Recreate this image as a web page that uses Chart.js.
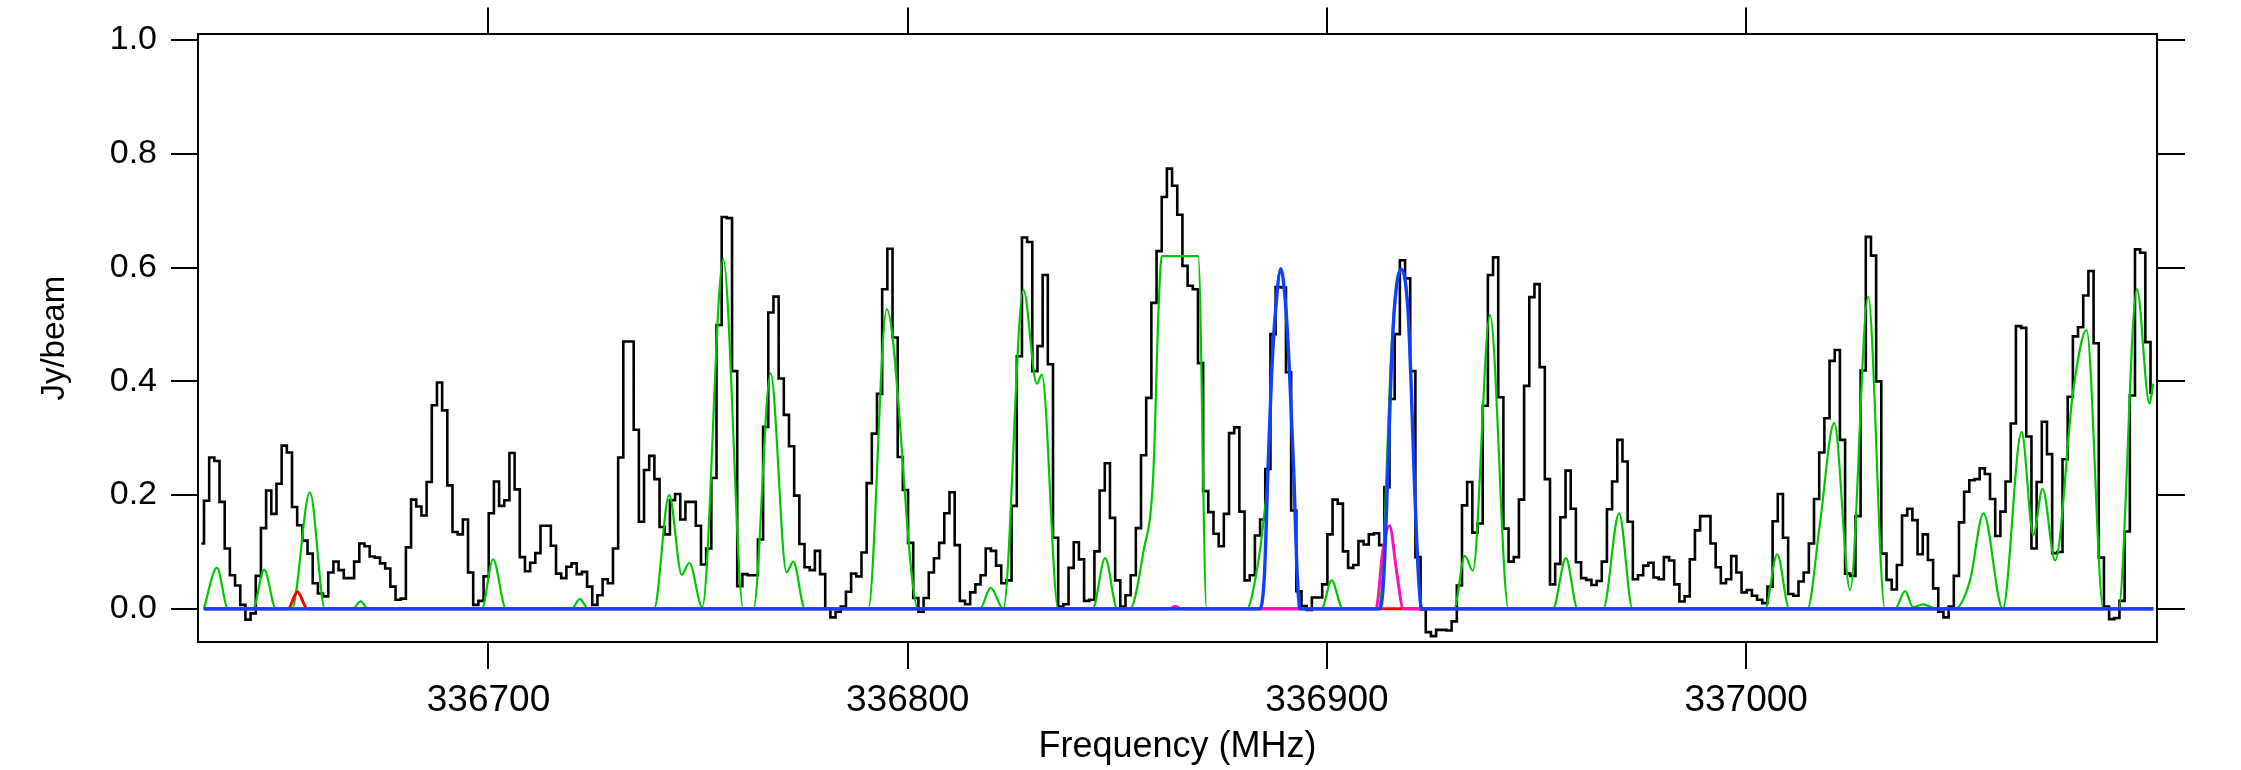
<!DOCTYPE html>
<html>
<head>
<meta charset="utf-8">
<title>Spectrum</title>
<script src="https://cdn.jsdelivr.net/npm/chart.js@4.4.1/dist/chart.umd.min.js"></script>
<style>
    html, body { margin: 0; padding: 0; background: #fff; }
    #wrap { width: 2241px; height: 770px; position: relative; }
</style>
</head>
<body>
<div id="wrap"><canvas id="spectrum"></canvas></div>
<script>
// observed spectrum: left edge of first channel and channel width (MHz)
const channelStart = 336632.14;
const channelWidth = 1.23488;
// first value is the stub just left of the first channel, then one value per channel (Jy/beam)
const fluxJy = [
    0.115,
    0.19, 0.266, 0.26, 0.188, 0.106, 0.059, 0.041, 0.007, -0.019, -0.008,
    0.058, 0.142, 0.208, 0.167, 0.22, 0.287, 0.275, 0.179, 0.147, 0.12,
    0.097, 0.045, 0.027, 0.022, 0.064, 0.083, 0.068, 0.054, 0.054, 0.083,
    0.115, 0.11, 0.092, 0.09, 0.08, 0.071, 0.039, 0.016, 0.018, 0.108,
    0.192, 0.18, 0.164, 0.223, 0.358, 0.398, 0.349, 0.217, 0.135, 0.131,
    0.157, 0.064, 0.007, 0.014, 0.057, 0.168, 0.224, 0.181, 0.191, 0.274,
    0.21, 0.091, 0.066, 0.081, 0.098, 0.146, 0.146, 0.111, 0.062, 0.054,
    0.074, 0.08, 0.061, 0.065, 0.039, 0.007, 0.024, 0.052, 0.045, 0.106,
    0.266, 0.47, 0.47, 0.315, 0.153, 0.244, 0.269, 0.228, 0.144, 0.131,
    0.191, 0.202, 0.157, 0.188, 0.188, 0.146, 0.078, 0.106, 0.23, 0.499,
    0.689, 0.687, 0.418, 0.04, 0.061, 0.059, 0.059, 0.122, 0.32, 0.521,
    0.549, 0.405, 0.341, 0.286, 0.199, 0.114, 0.073, 0.068, 0.102, 0.061,
    0.001, -0.015, -0.005, 0.004, 0.03, 0.062, 0.057, 0.099, 0.221, 0.308,
    0.378, 0.562, 0.633, 0.477, 0.267, 0.209, 0.116, 0.019, -0.005, 0.019,
    0.064, 0.089, 0.116, 0.168, 0.205, 0.112, 0.014, 0.008, 0.029, 0.043,
    0.059, 0.106, 0.102, 0.076, 0.045, 0.05, 0.181, 0.444, 0.653, 0.645,
    0.418, 0.462, 0.587, 0.43, 0.125, 0.004, 0.008, 0.072, 0.117, 0.087,
    0.014, 0.016, 0.101, 0.208, 0.256, 0.16, 0.05, 0.004, 0.024, 0.059,
    0.142, 0.27, 0.371, 0.538, 0.629, 0.724, 0.774, 0.744, 0.693, 0.603,
    0.568, 0.562, 0.432, 0.207, 0.17, 0.132, 0.11, 0.167, 0.309, 0.319,
    0.171, 0.05, 0.059, 0.129, 0.157, 0.246, 0.483, 0.566, 0.565, 0.416,
    0.173, 0.031, 0.005, -0.002, 0.02, 0.02, 0.043, 0.131, 0.192, 0.185,
    0.101, 0.072, 0.077, 0.119, 0.113, 0.131, 0.133, 0.112, 0.214, 0.369,
    0.483, 0.613, 0.581, 0.418, 0.091, -0.001, -0.041, -0.048, -0.037, -0.037,
    -0.038, -0.022, 0.041, 0.182, 0.223, 0.134, 0.15, 0.357, 0.587, 0.618,
    0.372, 0.141, 0.083, 0.091, 0.192, 0.392, 0.548, 0.571, 0.425, 0.228,
    0.043, 0.079, 0.161, 0.243, 0.176, 0.082, 0.054, 0.051, 0.042, 0.049,
    0.083, 0.175, 0.224, 0.297, 0.259, 0.153, 0.052, 0.059, 0.076, 0.081,
    0.055, 0.052, 0.091, 0.085, 0.043, 0.013, 0.022, 0.087, 0.138, 0.163,
    0.163, 0.115, 0.073, 0.045, 0.052, 0.093, 0.064, 0.029, 0.033, 0.023,
    0.016, 0.01, 0.039, 0.154, 0.202, 0.125, 0.026, 0.023, 0.048, 0.064,
    0.115, 0.193, 0.275, 0.335, 0.436, 0.455, 0.297, 0.062, 0.058, 0.163,
    0.419, 0.654, 0.621, 0.4, 0.097, 0.051, 0.034, 0.077, 0.164, 0.176,
    0.156, 0.096, 0.131, 0.086, 0.036, -0.005, -0.015, 0.004, 0.058, 0.152,
    0.206, 0.226, 0.228, 0.247, 0.237, 0.193, 0.128, 0.171, 0.224, 0.326,
    0.497, 0.494, 0.303, 0.106, 0.223, 0.329, 0.272, 0.098, 0.1, 0.263,
    0.373, 0.479, 0.495, 0.551, 0.594, 0.467, 0.09, 0.004, -0.018, -0.016,
    0.014, 0.136, 0.375, 0.632, 0.626, 0.469, 0.38
];

const greenFreq = [
    336632.1, 336635.2, 336637.9, 336643.8, 336646.5, 336649.3, 336653.1, 336657.4, 336661.0,
    336667.6, 336669.5, 336671.3, 336698.4, 336701.1, 336704.2, 336719.8, 336721.8, 336723.8,
    336739.5, 336743.1, 336746.1, 336747.9, 336751.0, 336756.0, 336760.8, 336763.2, 336767.3,
    336771.1, 336772.7, 336775.5, 336790.6, 336795.0, 336802.5, 336817.2, 336819.8, 336822.8,
    336827.6, 336830.8, 336832.0, 336835.9, 336844.1, 336847.1, 336850.0, 336853.0, 336856.2,
    336858.6, 336859.8, 336860.6, 336869.3, 336871.3, 336880.9, 336883.1, 336884.8, 336885.9,
    336886.8, 336887.8, 336889.0, 336890.2, 336891.1, 336892.1, 336892.9, 336893.6, 336898.7,
    336901.1, 336903.8, 336912.3, 336913.3, 336914.2, 336915.1, 336916.0, 336917.7, 336919.3,
    336920.0, 336920.8, 336921.8, 336922.6, 336930.3, 336932.9, 336934.8, 336938.9, 336943.3,
    336953.9, 336957.0, 336959.8, 336965.9, 336969.7, 336972.9, 337004.5, 337007.4, 337010.3,
    337014.6, 337017.6, 337021.0, 337024.8, 337029.1, 337033.1, 337035.5, 337037.9, 337039.8,
    337042.2, 337045.4, 337049.8, 337053.4, 337056.6, 337061.2, 337065.7, 337068.5, 337070.7,
    337073.7, 337078.0, 337081.2, 337085.2, 337088.8, 337093.2, 337096.2, 337097.1
];
const greenFlux = [
    0, 0.072, 0, 0, 0.069, 0, 0, 0.205, 0,
    0, 0.013, 0, 0, 0.087, 0, 0, 0.017, 0,
    0, 0.2, 0.06, 0.081, 0.003, 0.615, 0, 0, 0.414,
    0.064, 0.083, 0, 0, 0.527, 0, 0, 0.037, 0,
    0.561, 0.396, 0.412, 0, 0, 0.089, 0, 0, 0.1,
    0.24, 0.52, 0.62, 0.62, 0, 0, 0.06, 0.15, 0.237,
    0.412, 0.529, 0.598, 0.529, 0.412, 0.237, 0.062, 0, 0,
    0.05, 0, 0, 0.062, 0.237, 0.412, 0.529, 0.597, 0.529,
    0.412, 0.237, 0.062, 0, 0, 0.093, 0.067, 0.517, 0,
    0, 0.089, 0, 0, 0.168, 0, 0, 0.096, 0,
    0, 0.15, 0.327, 0.033, 0.549, 0, 0, 0.031, 0.003,
    0.008, 0, 0, 0.05, 0.168, 0, 0.311, 0.13, 0.211,
    0.085, 0.383, 0.49, 0, 0, 0.562, 0.361, 0.396
];

const blueFreq = [
    336632.1, 336884.0, 336885.1, 336885.9, 336886.8, 336887.8, 336889.0, 336890.2, 336891.1,
    336892.1, 336892.9, 336893.6, 336912.7, 336913.6, 336914.5, 336915.3, 336916.1, 336917.7,
    336919.3, 336920.0, 336920.8, 336921.8, 336922.6, 337097.1
];
const blueFlux = [
    0, 0, 0.062, 0.237, 0.412, 0.529, 0.598, 0.529, 0.412,
    0.237, 0.062, 0, 0, 0.062, 0.237, 0.412, 0.529, 0.597,
    0.529, 0.412, 0.237, 0.062, 0, 0
];

const redFreq = [336632.1, 336652.2, 336654.4, 336656.8, 337097.1];
const redFlux = [0, 0, 0.03, 0, 0];

const magentaFreq = [336632.1, 336862.3, 336863.8, 336865.3, 336911.7, 336913.3, 336914.9, 336916.7, 336918.2, 337097.1];
const magentaFlux = [0, 0, 0.004, 0, 0, 0.1, 0.146, 0.062, 0, 0];

const xTickValues = [336700, 336800, 336900, 337000];
const yTickValues = [0, 0.2, 0.4, 0.6, 0.8, 1.0];

function toPoints(freqs, values) {
    return freqs.map((f, i) => ({ x: f, y: values[i] }));
}

const observed = fluxJy.map((v, i) => ({ x: channelStart + (i - 0.5) * channelWidth, y: v }));

const fontFamily = "'Liberation Sans', Arial, Helvetica, sans-serif";
const xMin = 336630.71;
const xMax = 337098.0;
const yMin = -0.0583;
const yMax = 1.0100;

function frameGrid(len) {
    return { drawOnChartArea: false, drawTicks: true, tickLength: len, color: '#000', lineWidth: 2 };
}
const frameBorder = { display: true, color: '#000', width: 2 };

function modelLine(label, data, color, width, order) {
    return {
        label: label,
        data: data,
        borderColor: color,
        borderWidth: width,
        pointRadius: 0,
        fill: false,
        cubicInterpolationMode: 'monotone',
        order: order
    };
}

const ctx = document.getElementById('spectrum').getContext('2d');
const spectrumChart = new Chart(ctx, {
    type: 'line',
    data: {
        datasets: [
            modelLine('blue', toPoints(blueFreq, blueFlux), '#1040ff', 3.4, 1),
            modelLine('magenta', toPoints(magentaFreq, magentaFlux), '#ff10b8', 3, 2),
            modelLine('red', toPoints(redFreq, redFlux), '#ff0000', 3, 3),
            modelLine('green', toPoints(greenFreq, greenFlux), '#00c800', 2.2, 4),
            {
                label: 'observed',
                data: observed,
                borderColor: '#000',
                borderWidth: 2.6,
                pointRadius: 0,
                fill: false,
                stepped: 'middle',
                order: 5
            }
        ]
    },
    options: {
        responsive: true,
        maintainAspectRatio: false,
        devicePixelRatio: 1,
        animation: false,
        layout: { padding: 0 },
        plugins: {
            legend: { display: false },
            tooltip: { enabled: false }
        },
        scales: {
            x: {
                type: 'linear',
                position: 'bottom',
                min: xMin,
                max: xMax,
                afterBuildTicks: function (axis) { axis.ticks = xTickValues.map(v => ({ value: v })); },
                afterFit: function (axis) { axis.height = 128; },
                grid: frameGrid(27),
                border: frameBorder,
                ticks: {
                    padding: 10,
                    maxRotation: 0,
                    autoSkip: false,
                    color: '#000',
                    font: { family: fontFamily, size: 37 },
                    callback: v => String(v)
                },
                title: {
                    display: true,
                    text: 'Frequency (MHz)',
                    color: '#000',
                    font: { family: fontFamily, size: 36 },
                    padding: { top: 0, bottom: 1 }
                }
            },
            xTop: {
                type: 'linear',
                position: 'top',
                min: xMin,
                max: xMax,
                afterBuildTicks: function (axis) { axis.ticks = xTickValues.map(v => ({ value: v })); },
                afterFit: function (axis) { axis.height = 32; },
                grid: frameGrid(27),
                border: frameBorder,
                ticks: { display: false }
            },
            y: {
                type: 'linear',
                position: 'left',
                min: yMin,
                max: yMax,
                afterBuildTicks: function (axis) { axis.ticks = yTickValues.map(v => ({ value: v })); },
                afterFit: function (axis) { axis.width = 198; },
                grid: frameGrid(27),
                border: frameBorder,
                ticks: {
                    padding: 14,
                    color: '#000',
                    font: { family: fontFamily, size: 34 },
                    callback: v => v.toFixed(1)
                },
                title: {
                    display: true,
                    text: 'Jy/beam',
                    color: '#000',
                    font: { family: fontFamily, size: 33 },
                    padding: { top: 35, bottom: 0 }
                }
            },
            yRight: {
                type: 'linear',
                position: 'right',
                min: yMin,
                max: yMax,
                afterBuildTicks: function (axis) { axis.ticks = yTickValues.map(v => ({ value: v })); },
                afterFit: function (axis) { axis.width = 84; },
                grid: frameGrid(28),
                border: frameBorder,
                ticks: { display: false }
            }
        }
    }
});
</script>
</body>
</html>
